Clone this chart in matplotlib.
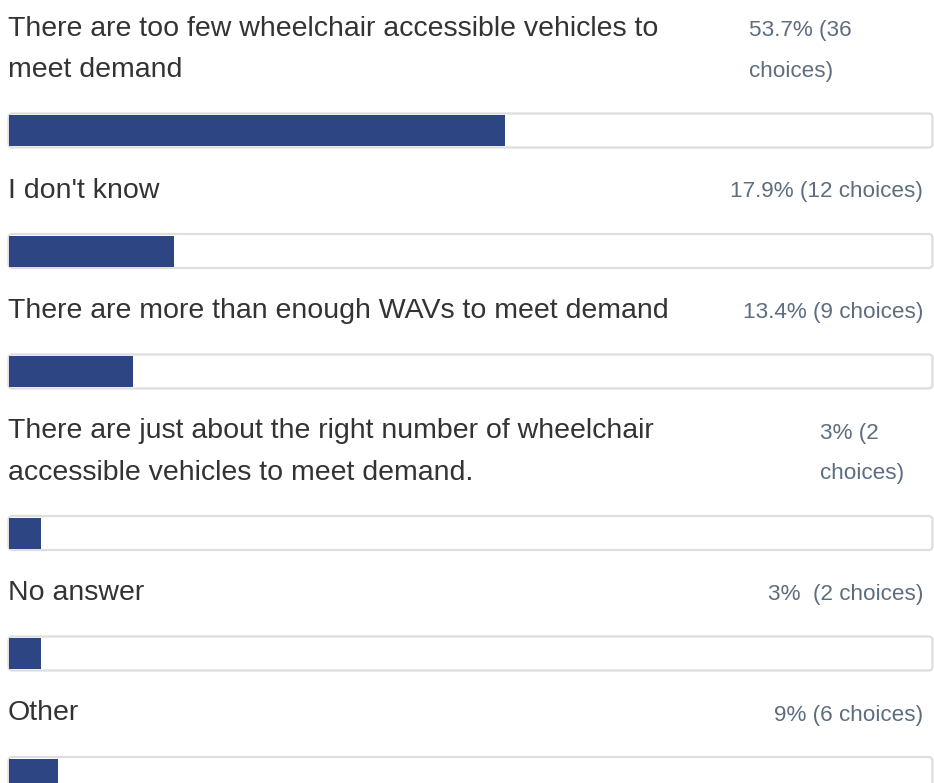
import matplotlib.pyplot as plt
from matplotlib.patches import FancyBboxPatch, Rectangle

# survey answers (line breaks follow the reference wrapping)
labels = [
    "There are too few wheelchair accessible vehicles to\nmeet demand",
    "I don't know",
    "There are more than enough WAVs to meet demand",
    "There are just about the right number of wheelchair\naccessible vehicles to meet demand.",
    "No answer",
    "Other",
]
pct_text = [
    "53.7% (36\nchoices)",
    "17.9% (12 choices)",
    "13.4% (9 choices)",
    "3% (2\nchoices)",
    "3%  (2 choices)",
    "9% (6 choices)",
]
# bar fill, percent of the track
fill_pct = [53.7, 17.9, 13.4, 3.5, 3.5, 5.3]

W, H = 934, 783
BAR_COLOR = "#2e4583"
LABEL_COLOR = "#333333"
PCT_COLOR = "#5d6d7e"
TRACK_EDGE = "#dedede"

plt.rcParams["font.family"] = ["Liberation Sans", "DejaVu Sans"]

fig = plt.figure(figsize=(W / 100, H / 100), dpi=100)
ax = fig.add_axes([0, 0, 1, 1])
ax.set_xlim(0, W)
ax.set_ylim(H, 0)
ax.axis("off")

track_left, track_right = 8.5, 932.5
track_h = 34
line_gap = 41
# x of wrapped percentage texts (left aligned), others are right aligned
wrapped_x = {0: 749, 3: 820}

track_top = 36 - 84
for i, (lab, pt, fp) in enumerate(zip(labels, pct_text, fill_pct)):
    base = track_top + 84
    nlines = lab.count("\n") + 1
    for j, line in enumerate(lab.split("\n")):
        ax.text(8, base + j * line_gap, line, fontsize=20.5, color=LABEL_COLOR,
                va="baseline", ha="left")
    for j, line in enumerate(pt.split("\n")):
        if i in wrapped_x:
            ax.text(wrapped_x[i], base + j * line_gap, line, fontsize=16.2,
                    color=PCT_COLOR, va="baseline", ha="left")
        else:
            ax.text(923, base, line, fontsize=16.2, color=PCT_COLOR,
                    va="baseline", ha="right")
    track_top = base + (nlines - 1) * line_gap + 36.5

    track = FancyBboxPatch((track_left, track_top), track_right - track_left, track_h,
                           boxstyle="round,pad=0,rounding_size=4",
                           facecolor="white", edgecolor=TRACK_EDGE, linewidth=1.6)
    ax.add_patch(track)
    inner_w = track_right - track_left - 1
    ax.add_patch(Rectangle((track_left + 0.5, track_top + 1.5), inner_w * fp / 100,
                           track_h - 3, facecolor=BAR_COLOR, edgecolor="none"))

fig.savefig("out.png", dpi=100)
